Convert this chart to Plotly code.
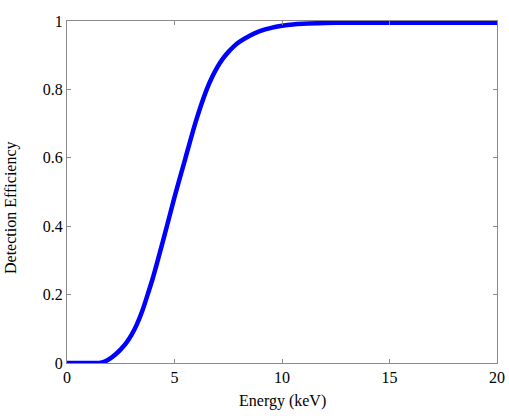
import plotly.graph_objects as go

energy_kev = [0, 0.5, 1.0, 1.5, 1.75, 2.0, 2.25, 2.5, 2.75, 3.0, 3.25, 3.5, 3.75,
              4.0, 4.5, 5.0, 5.5, 6.0, 6.5, 6.75, 7.0, 7.25, 7.5, 7.75, 8.0, 8.5,
              9.0, 9.5, 10, 10.5, 11, 12, 13, 14, 15, 16, 17, 18, 19, 20]
efficiency = [0, 0, 0, 0.0, 0.004, 0.013, 0.025, 0.040, 0.058, 0.082, 0.113, 0.152,
              0.200, 0.250, 0.365, 0.485, 0.597, 0.708, 0.800, 0.836, 0.866, 0.890,
              0.909, 0.925, 0.938, 0.957, 0.971, 0.980, 0.986, 0.990, 0.992, 0.994,
              0.995, 0.995, 0.995, 0.995, 0.995, 0.995, 0.995, 0.995]

x_ticks = [0, 5, 10, 15, 20]
y_ticks = [0, 0.2, 0.4, 0.6, 0.8, 1]
y_tick_labels = ["0", "0.2", "0.4", "0.6", "0.8", "1"]

font_family = "Liberation Serif, Times New Roman, serif"
axis_color = "#8a8a8a"

fig = go.Figure()
fig.add_trace(go.Scatter(
    x=energy_kev, y=efficiency, mode="lines",
    line=dict(color="#0000ff", width=4.5, shape="spline", smoothing=0.8),
    showlegend=False, hoverinfo="skip",
))

axis_common = dict(
    showline=True, linecolor=axis_color, linewidth=1, mirror="ticks",
    ticks="inside", ticklen=4, tickcolor=axis_color, tickwidth=1,
    showgrid=False, zeroline=False, automargin=False,
    tickfont=dict(family=font_family, size=16, color="black"),
)

fig.update_layout(
    width=509, height=416,
    margin=dict(l=67, r=12, t=21, b=53),
    paper_bgcolor="white", plot_bgcolor="white",
    xaxis=dict(range=[0, 20], tickvals=x_ticks, ticktext=[str(v) for v in x_ticks],
               **axis_common),
    yaxis=dict(range=[0, 1], tickvals=y_ticks, ticktext=y_tick_labels,
               **axis_common),
    annotations=[
        dict(text="Energy (keV)", xref="paper", yref="paper",
             x=(282 - 67) / 430, y=-(401 - 363) / 342, xanchor="center", yanchor="middle",
             showarrow=False, font=dict(family=font_family, size=16, color="black")),
        dict(text="Detection Efficiency", xref="paper", yref="paper",
             x=-(67 - 11.5) / 430, y=(363 - 207.5) / 342, xanchor="center", yanchor="middle",
             textangle=-90, showarrow=False,
             font=dict(family=font_family, size=16, color="black")),
    ],
)

fig.write_html("out.html")
